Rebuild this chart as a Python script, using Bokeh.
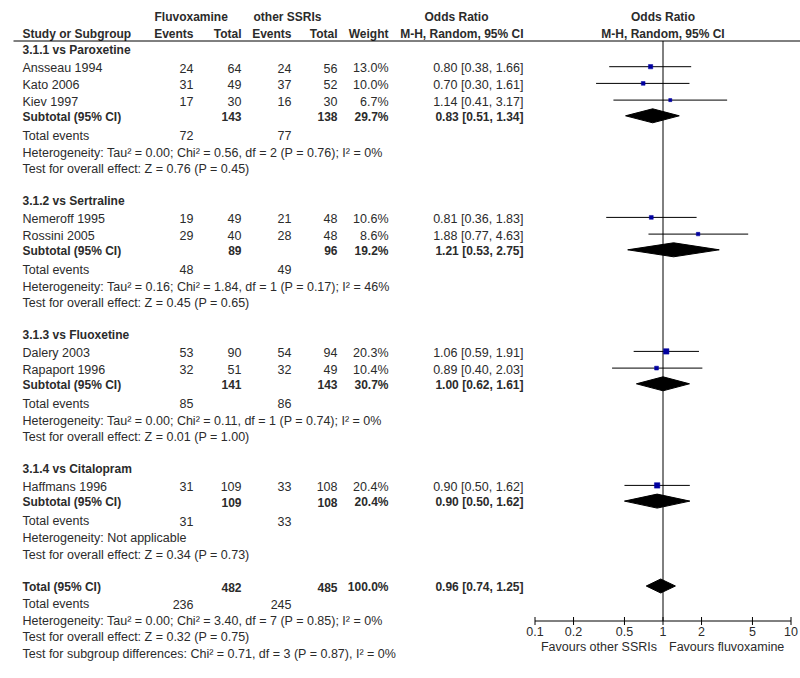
import math
from bokeh.plotting import figure
from bokeh.models import ColumnDataSource, Range1d, LogScale
from bokeh.embed import file_html
from bokeh.resources import INLINE
from bokeh.core.properties import value

# ---------------- data ----------------
group_labels = ["3.1.1 vs Paroxetine", "3.1.2 vs Sertraline", "3.1.3 vs Fluoxetine", "3.1.4 vs Citalopram"]
studies = [["Ansseau 1994", "Kato 2006", "Kiev 1997"], ["Nemeroff 1995", "Rossini 2005"],
           ["Dalery 2003", "Rapaport 1996"], ["Haffmans 1996"]]
fluv_events = [[24, 31, 17], [19, 29], [53, 32], [31]]
fluv_total = [[64, 49, 30], [49, 40], [90, 51], [109]]
ssri_events = [[24, 37, 16], [21, 28], [54, 32], [33]]
ssri_total = [[56, 52, 30], [48, 48], [94, 49], [108]]
weights = [[13.0, 10.0, 6.7], [10.6, 8.6], [20.3, 10.4], [20.4]]
study_or = [[0.80, 0.70, 1.14], [0.81, 1.88], [1.06, 0.89], [0.90]]
study_lo = [[0.38, 0.30, 0.41], [0.36, 0.77], [0.59, 0.40], [0.50]]
study_hi = [[1.66, 1.61, 3.17], [1.83, 4.63], [1.91, 2.03], [1.62]]

sub_fluv_total = [143, 89, 141, 109]
sub_ssri_total = [138, 96, 143, 108]
sub_weight = [29.7, 19.2, 30.7, 20.4]
sub_or = [0.83, 1.21, 1.00, 0.90]
sub_lo = [0.51, 0.53, 0.62, 0.50]
sub_hi = [1.34, 2.75, 1.61, 1.62]
sub_fluv_events = [72, 48, 85, 31]
sub_ssri_events = [77, 49, 86, 33]
sub_het = ["Heterogeneity: Tau² = 0.00; Chi² = 0.56, df = 2 (P = 0.76); I² = 0%",
           "Heterogeneity: Tau² = 0.16; Chi² = 1.84, df = 1 (P = 0.17); I² = 46%",
           "Heterogeneity: Tau² = 0.00; Chi² = 0.11, df = 1 (P = 0.74); I² = 0%",
           "Heterogeneity: Not applicable"]
sub_test = ["Test for overall effect: Z = 0.76 (P = 0.45)",
            "Test for overall effect: Z = 0.45 (P = 0.65)",
            "Test for overall effect: Z = 0.01 (P = 1.00)",
            "Test for overall effect: Z = 0.34 (P = 0.73)"]

total_fluv_total = 482
total_ssri_total = 485
total_weight = 100.0
total_or = 0.96
total_lo = 0.74
total_hi = 1.25
total_fluv_events = 236
total_ssri_events = 245
total_het = "Heterogeneity: Tau² = 0.00; Chi² = 3.40, df = 7 (P = 0.85); I² = 0%"
total_test = "Test for overall effect: Z = 0.32 (P = 0.75)"
subgroup_test = "Test for subgroup differences: Chi² = 0.71, df = 3 (P = 0.87), I² = 0%"

axis_ticks = [0.1, 0.2, 0.5, 1, 2, 5, 10]
axis_tick_labels = ["0.1", "0.2", "0.5", "1", "2", "5", "10"]
favours_left = "Favours other SSRIs"
favours_right = "Favours fluvoxamine"

# ---------------- layout constants ----------------
W, H = 800, 678
FONT = value("Liberation Sans")
FS_B = "12px"
FS_R = "12.5px"
TXT = "#2b2b2b"
X_LABEL, X_FE, X_FT, X_SE, X_ST, X_W, X_OR = 22, 193, 241, 291, 337, 388, 523
ROW = 16.7
SUB_GAP = 15.7
EV_GAP = 20.0
SEC_GAP = 31.5
HDR_LINE = 40.5
AXIS_Y = 620.5
NULL_X = 662.5      # pixel position of OR = 1
PX_PER_DECADE = 128

texts = {}


def add_text(x, y, t, bold=False, align="left"):
    key = (bold, align)
    d = texts.setdefault(key, {"x": [], "y": [], "t": []})
    d["x"].append(x)
    d["y"].append(y)
    d["t"].append(str(t))


def fmt_or(o, lo, hi):
    return f"{o:.2f} [{lo:.2f}, {hi:.2f}]"


pts = {"or": [], "lo": [], "hi": [], "y": [], "size": []}
dia = {"xs": [], "ys": []}


def add_diamond(o, lo, hi, y):
    dia["xs"].append([lo, o, hi, o])
    dia["ys"].append([y, y - 7, y, y + 7])


# headers
add_text(154, 16, "Fluvoxamine", True)
add_text(253, 16, "other SSRIs", True)
add_text(456, 16, "Odds Ratio", True, "center")
add_text(X_LABEL, 33, "Study or Subgroup", True)
add_text(X_FE, 33, "Events", True, "right")
add_text(X_FT, 33, "Total", True, "right")
add_text(X_SE, 33, "Events", True, "right")
add_text(X_ST, 33, "Total", True, "right")
add_text(X_W, 33, "Weight", True, "right")
add_text(X_OR, 33, "M-H, Random, 95% CI", True, "right")

y = 49.5
for g in range(len(group_labels)):
    add_text(X_LABEL, y, group_labels[g], True)
    for s in range(len(studies[g])):
        y += ROW
        ty = y + 1.5
        add_text(X_LABEL, ty, studies[g][s])
        add_text(X_FE, ty, fluv_events[g][s], align="right")
        add_text(X_FT, ty, fluv_total[g][s], align="right")
        add_text(X_SE, ty, ssri_events[g][s], align="right")
        add_text(X_ST, ty, ssri_total[g][s], align="right")
        add_text(X_W, ty, f"{weights[g][s]:.1f}%", align="right")
        add_text(X_OR, ty, fmt_or(study_or[g][s], study_lo[g][s], study_hi[g][s]), align="right")
        pts["or"].append(study_or[g][s])
        pts["lo"].append(study_lo[g][s])
        pts["hi"].append(study_hi[g][s])
        pts["y"].append(y)
        pts["size"].append(1.2 * math.sqrt(weights[g][s]))
    y += SUB_GAP
    add_text(X_LABEL, y + 1, "Subtotal (95% CI)", True)
    add_text(X_FT, y + 1, sub_fluv_total[g], True, "right")
    add_text(X_ST, y + 1, sub_ssri_total[g], True, "right")
    add_text(X_W, y + 1, f"{sub_weight[g]:.1f}%", True, "right")
    add_text(X_OR, y + 1, fmt_or(sub_or[g], sub_lo[g], sub_hi[g]), True, "right")
    add_diamond(sub_or[g], sub_lo[g], sub_hi[g], y)
    y += EV_GAP
    add_text(X_LABEL, y, "Total events")
    add_text(X_FE, y, sub_fluv_events[g], align="right")
    add_text(X_SE, y, sub_ssri_events[g], align="right")
    y += ROW
    add_text(X_LABEL, y, sub_het[g])
    y += ROW
    add_text(X_LABEL, y, sub_test[g])
    y += SEC_GAP

add_text(X_LABEL, y + 1, "Total (95% CI)", True)
add_text(X_FT, y + 1, total_fluv_total, True, "right")
add_text(X_ST, y + 1, total_ssri_total, True, "right")
add_text(X_W, y + 1, f"{total_weight:.1f}%", True, "right")
add_text(X_OR, y + 1, fmt_or(total_or, total_lo, total_hi), True, "right")
add_diamond(total_or, total_lo, total_hi, y)
y += 18
add_text(X_LABEL, y, "Total events")
add_text(X_FE, y, total_fluv_events, align="right")
add_text(X_SE, y, total_ssri_events, align="right")
y += ROW
add_text(X_LABEL, y, total_het)
y += ROW
add_text(X_LABEL, y, total_test)
y += ROW
add_text(X_LABEL, y, subgroup_test)

# ---------------- figure ----------------
p = figure(width=W, height=H, x_range=Range1d(0, W), y_range=Range1d(H, 0),
           output_backend="svg", toolbar_location=None, min_border=0,
           x_axis_location=None, y_axis_location=None)
p.grid.visible = False
p.outline_line_color = None
p.background_fill_color = "white"
p.border_fill_color = "white"

# log-scaled range for the odds-ratio panel
p.extra_x_ranges = {"or": Range1d(10 ** ((0 - NULL_X) / PX_PER_DECADE),
                                  10 ** ((W - NULL_X) / PX_PER_DECADE))}
p.extra_x_scales = {"or": LogScale()}

for (bold, align), d in texts.items():
    src = ColumnDataSource(dict(x=d["x"], y=d["y"], t=d["t"]))
    p.text(x="x", y="y", text="t", source=src, text_font=FONT,
           text_font_size=FS_B if bold else FS_R,
           text_font_style="bold" if bold else "normal", text_align=align,
           text_baseline="middle", text_color=TXT)

# header rule
p.segment(x0=[13], x1=[W], y0=[HDR_LINE], y1=[HDR_LINE], line_color="black", line_width=1)

# forest panel
p.text(x=[1, 1], y=[16, 33], text=["Odds Ratio", "M-H, Random, 95% CI"], text_font=FONT,
       text_font_size=FS_B, text_font_style="bold", text_align="center",
       text_baseline="middle", text_color=TXT, x_range_name="or")
p.segment(x0=[1], x1=[1], y0=[HDR_LINE], y1=[AXIS_Y], line_color="black", line_width=1,
          x_range_name="or")

src_pts = ColumnDataSource(pts)
p.segment(x0="lo", x1="hi", y0="y", y1="y", source=src_pts, line_color="black",
          line_width=1, x_range_name="or")
p.scatter(x="or", y="y", size="size", marker="square", source=src_pts,
          fill_color="#0000a0", line_color="#0000a0", line_width=0.5, x_range_name="or")
p.patches(xs="xs", ys="ys", source=ColumnDataSource(dia), fill_color="black",
          line_color="black", x_range_name="or")

# odds-ratio axis (drawn on the log scale)
tick_src = ColumnDataSource(dict(x=axis_ticks, lab=axis_tick_labels,
                                 y0=[AXIS_Y - 4] * len(axis_ticks),
                                 y1=[AXIS_Y + 4] * len(axis_ticks),
                                 ly=[AXIS_Y + 10] * len(axis_ticks)))
p.segment(x0=[axis_ticks[0]], x1=[axis_ticks[-1]], y0=[AXIS_Y], y1=[AXIS_Y],
          line_color="black", line_width=1, x_range_name="or")
p.segment(x0="x", x1="x", y0="y0", y1="y1", source=tick_src, line_color="black",
          line_width=1, x_range_name="or")
p.text(x="x", y="ly", text="lab", source=tick_src, text_font=FONT, text_font_size=FS_R,
       text_align="center", text_baseline="middle", text_color=TXT, x_range_name="or")
p.text(x=[1], y=[AXIS_Y + 26], text=[favours_left], x_offset=-6, text_font=FONT,
       text_font_size=FS_R, text_align="right", text_baseline="middle", text_color=TXT,
       x_range_name="or")
p.text(x=[1], y=[AXIS_Y + 26], text=[favours_right], x_offset=6, text_font=FONT,
       text_font_size=FS_R, text_align="left", text_baseline="middle", text_color=TXT,
       x_range_name="or")

open("out.html", "w").write(file_html(p, INLINE))
